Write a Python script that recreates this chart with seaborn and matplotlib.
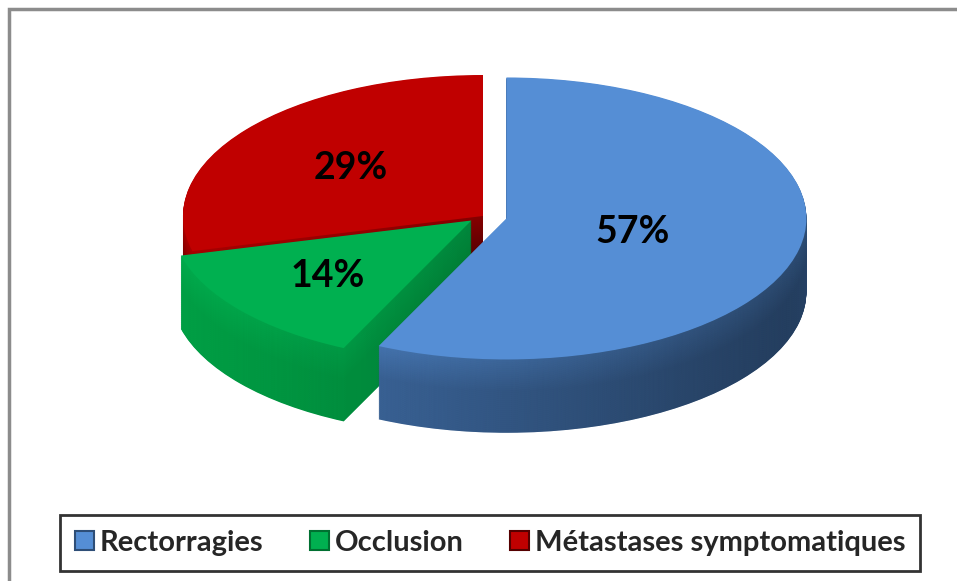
import matplotlib
matplotlib.use('Agg')
import matplotlib.pyplot as plt
import matplotlib.colors as mc
from matplotlib.patches import Patch, Rectangle
import numpy as np
import seaborn as sns

categories = ['Rectorragies', 'Occlusion', 'Métastases symptomatiques']
values = [57, 14, 29]
top_colors = ['#558ED5', '#00B050', '#C00000']
side_colors = ['#4270AA', '#00A046', '#7A0000']
explode = [0.08, 0.05, 0.0]
label_dist = [0.43, 0.62, 0.56]

sns.set_theme(style='white')
plt.rcParams['font.family'] = ['Lato', 'DejaVu Sans']

W, H = 957, 581
fig = plt.figure(figsize=(W / 100, H / 100), dpi=100)
ax = fig.add_axes([0, 0, 1, 1])

cx_px, cy_px = 483, 216
rx, ry = 300, 141
depth = 0.52
n = 110

x0, x1 = -cx_px / rx, (W - cx_px) / rx
y0, y1 = -(H - cy_px) / ry, cy_px / ry

# horizontal shading ramp for the side walls (darker to the right)
ramp = np.zeros((1, 256, 4))
ramp[0, :, 3] = np.linspace(0.0, 0.6, 256) ** 1.2


def mix(a, b, t):
    a = np.array(mc.to_rgb(a))
    b = np.array(mc.to_rgb(b))
    return mc.to_hex(a * (1 - t) + b * t)


for i in range(n, 0, -1):
    d = depth * i / n
    t = min(1.0, 0.3 + 1.6 * i / n)
    cols = [mix(tc, sc, t) for tc, sc in zip(top_colors, side_colors)]
    ws, _ = ax.pie(values, colors=cols, startangle=90, counterclock=False,
                   explode=explode, center=(0, -d), radius=1,
                   wedgeprops=dict(linewidth=0, zorder=1))
    for w in ws:
        ax.imshow(ramp, extent=[-1.05, 1.12, -2, 2], aspect='auto',
                  interpolation='bilinear', zorder=1, clip_path=w)

wedges, _ = ax.pie(values, colors=top_colors, startangle=90, counterclock=False,
                   explode=explode, radius=1, wedgeprops=dict(linewidth=0, zorder=1))

for w, v, ld in zip(wedges, values, label_dist):
    ang = np.deg2rad((w.theta1 + w.theta2) / 2)
    c = w.center
    ax.text(c[0] + ld * np.cos(ang), c[1] + ld * np.sin(ang), f'{v}%',
            ha='center', va='center', fontsize=27, fontweight='bold',
            color='black', zorder=5)

ax.set_aspect('auto')
ax.set_xlim(x0, x1)
ax.set_ylim(y0, y1)
ax.axis('off')

handles = [Patch(facecolor=tc, edgecolor=mix(sc, '#000000', 0.3), linewidth=1.5)
           for tc, sc in zip(top_colors, side_colors)]
leg = fig.legend(handles, categories, loc='center',
                 bbox_to_anchor=(490 / W, 1 - 543 / H), ncol=3, frameon=True,
                 fancybox=False, edgecolor='black',
                 prop=dict(weight='bold', size=21),
                 handlelength=0.65, handleheight=0.65, handletextpad=0.2,
                 columnspacing=1.6, borderpad=0.5, borderaxespad=0)
leg.get_frame().set_linewidth(2)

fig.patches.append(Rectangle((9 / W, -0.05), 1.2, 1.05 - 9 / H, transform=fig.transFigure,
                             fill=False, edgecolor='#8c8c8c', linewidth=2.5))

fig.savefig('out.png', dpi=100)
